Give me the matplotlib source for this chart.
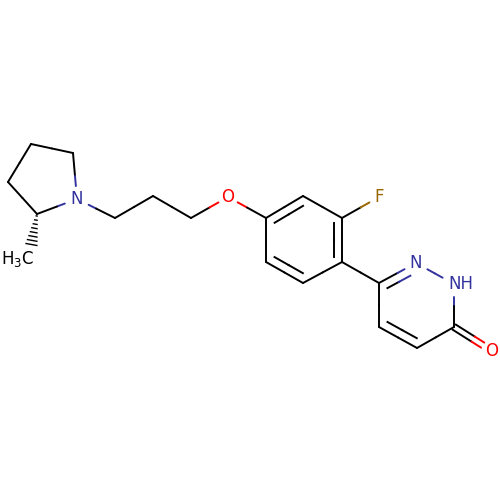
import matplotlib
matplotlib.use('Agg')
import matplotlib.pyplot as plt
import numpy as np

plt.rcParams['font.family'] = 'DejaVu Sans'
plt.rcParams['mathtext.default'] = 'regular'

# atom positions (pixels, y down)
atom_x = [77, 37, 8, 31, 73, 29, 115, 153, 191, 228, 266, 303, 342, 342, 303, 266, 379, 379, 416, 454, 454, 417, 379, 492]
atom_y = [199, 214, 182, 144, 153, 258, 218, 196, 218, 197, 218, 196, 218, 262, 283, 262, 197, 283, 263, 284, 327, 348, 327, 351]
# element of each atom, 'C' gets no label unless listed in labels
elements = ['N', 'C', 'C', 'C', 'C', 'C', 'C', 'C', 'C', 'O', 'C', 'C', 'C', 'C', 'C', 'C', 'F', 'C', 'N', 'N', 'C', 'C', 'C', 'O']
labels = {0: 'N', 9: 'O', 16: 'F', 18: 'N', 19: 'NH', 23: 'O', 5: 'H$_3$C'}
colors = {'C': 'black', 'N': '#33339f', 'O': '#ff0000', 'F': '#996600'}

single_bonds = [(0, 1), (1, 2), (2, 3), (3, 4), (4, 0), (0, 6), (6, 7), (7, 8), (8, 9), (9, 10),
                (11, 12), (13, 14), (15, 10), (12, 16), (13, 17), (18, 19), (19, 20), (20, 21),
                (22, 17)]
# double bonds: the second line goes on the ring side
ring_double = [(10, 11, 1), (12, 13, 1), (14, 15, 1), (17, 18, 1), (21, 22, 1)]
hash_bond = (1, 5)
centered_double = (20, 23)

trim = {'N': 13, 'O': 11, 'F': 11, 'C': 0}
lw = 1.4
label_size = 12


def pos(i):
    return np.array([atom_x[i], atom_y[i]], dtype=float)


def draw_half(ax, p, q, a, b):
    # line from p to q, coloured by atom a then atom b, with gaps at labels
    d = q - p
    length = np.hypot(*d)
    u = d / length
    start = p + u * trim[elements[a]]
    end = q - u * trim[elements[b]]
    mid = (p + q) / 2
    ax.plot([start[0], mid[0]], [start[1], mid[1]], color=colors[elements[a]], lw=lw, solid_capstyle='round')
    ax.plot([mid[0], end[0]], [mid[1], end[1]], color=colors[elements[b]], lw=lw, solid_capstyle='round')


fig = plt.figure(figsize=(5, 5), dpi=100)
ax = fig.add_axes([0, 0, 1, 1])
ax.set_xlim(0, 500)
ax.set_ylim(500, 0)
ax.axis('off')

for a, b in single_bonds:
    draw_half(ax, pos(a), pos(b), a, b)

# ring centres for the inner lines of double bonds
benzene = np.mean([pos(i) for i in [10, 11, 12, 13, 14, 15]], axis=0)
diazine = np.mean([pos(i) for i in [17, 18, 19, 20, 21, 22]], axis=0)

for a, b, _ in ring_double:
    p, q = pos(a), pos(b)
    draw_half(ax, p, q, a, b)
    centre = benzene if a in (10, 12, 14) else diazine
    u = (q - p) / np.hypot(*(q - p))
    n = np.array([-u[1], u[0]])
    if np.dot(centre - (p + q) / 2, n) < 0:
        n = -n
    p2 = p + n * 8.5 + u * 5
    q2 = q + n * 8.5 - u * 5
    if elements[a] != 'C':
        p2 = p2 + u * 6
    if elements[b] != 'C':
        q2 = q2 - u * 6
    ax.plot([p2[0], (p2[0] + q2[0]) / 2], [p2[1], (p2[1] + q2[1]) / 2], color=colors[elements[a]], lw=lw)
    ax.plot([(p2[0] + q2[0]) / 2, q2[0]], [(p2[1] + q2[1]) / 2, q2[1]], color=colors[elements[b]], lw=lw)

# carbonyl, two lines either side of the bond
a, b = centered_double
p, q = pos(a), pos(b)
u = (q - p) / np.hypot(*(q - p))
n = np.array([-u[1], u[0]])
for s in (-3.0, 3.0):
    draw_half(ax, p + n * s, q + n * s, a, b)

# hashed wedge to the methyl
p, q = pos(hash_bond[0]), pos(hash_bond[1])
u = (q - p) / np.hypot(*(q - p))
n = np.array([-u[1], u[0]])
for t, w in zip(np.linspace(2, 31, 8), np.linspace(0.5, 5.5, 8)):
    c = p + u * t
    ax.plot([c[0] - n[0] * w, c[0] + n[0] * w], [c[1] - n[1] * w, c[1] + n[1] * w], color='black', lw=1.0)

for i, text in labels.items():
    if text == 'NH':
        ax.text(atom_x[i] + 7, atom_y[i], text, color=colors['N'], fontsize=label_size, ha='center', va='center')
    elif i == 5:
        ax.text(18, atom_y[i] + 1, text, color='black', fontsize=label_size, ha='center', va='center')
    else:
        ax.text(atom_x[i], atom_y[i], text, color=colors[elements[i]], fontsize=label_size, ha='center', va='center')

fig.savefig('out.png', dpi=100)
